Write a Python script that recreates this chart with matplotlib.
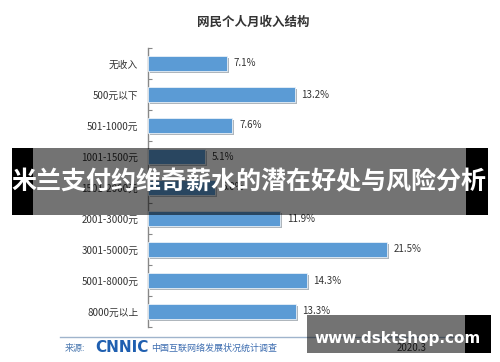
import matplotlib
matplotlib.use("Agg")
import matplotlib.pyplot as plt
from matplotlib.patches import Rectangle
import matplotlib.patheffects as pe

plt.rcParams['font.family'] = ['Noto Sans CJK SC', 'DejaVu Sans']

categories = ["无收入", "500元以下", "501-1000元", "1001-1500元", "1501-2000元",
              "2001-3000元", "3001-5000元", "5001-8000元", "8000元以上"]
values = [7.1, 13.2, 7.6, 5.1, 6.0, 11.9, 21.5, 14.3, 13.3]
title = "网民个人月收入结构"
banner = "米兰支付约维奇薪水的潜在好处与风险分析"
site = "www.dsktshop.com"

W, H = 500, 362
fig = plt.figure(figsize=(W / 100, H / 100), dpi=100)
fig.patch.set_facecolor("white")

def fx(x):
    return x / W

def fy(y):
    return 1 - y / H

ax = fig.add_axes([fx(148), fy(327), fx(481) - fx(148), (327 - 48) / H])
ax.set_facecolor("none")
ypos = list(range(len(categories)))
bars = ax.barh(ypos, values, height=0.47, color="#5b9bd5", edgecolor="#e8f0f8",
               linewidth=0.6, zorder=3)
for b in bars:
    b.set_path_effects([pe.SimplePatchShadow(offset=(1.5, -1.5), alpha=0.35), pe.Normal()])
ax.set_xlim(0, 30)
ax.set_ylim(len(categories) - 0.5, -0.5)
ax.set_yticks(ypos)
ax.set_yticklabels(categories, fontsize=7, color="#333333")
ax.set_yticks([i + 0.5 for i in range(-1, len(categories))], minor=True)
ax.tick_params(axis="y", which="major", length=0, pad=7)
ax.tick_params(axis="y", which="minor", length=3, direction="in", color="#888888", width=0.8)
ax.set_xticks([])
for s in ["top", "right", "bottom"]:
    ax.spines[s].set_visible(False)
ax.spines["left"].set_color("#888888")
ax.spines["left"].set_linewidth(1.0)
for y, v in zip(ypos, values):
    ax.text(v + 0.6, y, f"{v}%", va="center", ha="left", fontsize=7, color="#333333", zorder=4)

fig.text(fx(253), fy(22), title, ha="center", va="center", fontsize=9,
         fontweight="bold", color="#333333")

# footer
fig.add_artist(plt.Line2D([fx(60), fx(470)], [fy(337), fy(337)], color="#9fb4cc",
                          linewidth=1.0, transform=fig.transFigure))
fig.text(fx(65), fy(348), "来源:", ha="left", va="center", fontsize=6.5, color="#4a78b0")
fig.text(fx(95), fy(348), "CNNIC", ha="left", va="center", fontsize=11,
         fontweight="bold", color="#1f5fb0", family=["DejaVu Sans"])
fig.text(fx(151), fy(348), "中国互联网络发展状况统计调查", ha="left", va="center",
         fontsize=6.5, color="#3d6db0")
fig.text(fx(412), fy(348), "2020.3", ha="center", va="center", fontsize=7, color="#333333")

# banner overlay
fig.patches.append(Rectangle((fx(12), fy(215)), fx(33) - fx(12), (215 - 148) / H,
                             transform=fig.transFigure, facecolor="black", zorder=5))
fig.patches.append(Rectangle((fx(466), fy(215)), fx(488) - fx(466), (215 - 148) / H,
                             transform=fig.transFigure, facecolor="black", zorder=5))
fig.patches.append(Rectangle((fx(33), fy(215)), fx(466) - fx(33), (215 - 148) / H,
                             transform=fig.transFigure, facecolor="black", alpha=0.55,
                             zorder=5))
fig.text(fx(249), fy(182), banner, ha="center", va="center", fontsize=18,
         fontweight="bold", color="white", zorder=6)

# site watermark box
fig.patches.append(Rectangle((fx(465), fy(353)), fx(491) - fx(465), (353 - 315) / H,
                             transform=fig.transFigure, facecolor="black", zorder=5))
fig.patches.append(Rectangle((fx(307), fy(353)), fx(465) - fx(307), (353 - 315) / H,
                             transform=fig.transFigure, facecolor="black", alpha=0.55,
                             zorder=5))
fig.text(fx(398), fy(338), site, ha="center", va="center", fontsize=11,
         fontweight="bold", color="white", zorder=6, family=["DejaVu Sans"])

fig.savefig("out.png", dpi=100, facecolor="white")
